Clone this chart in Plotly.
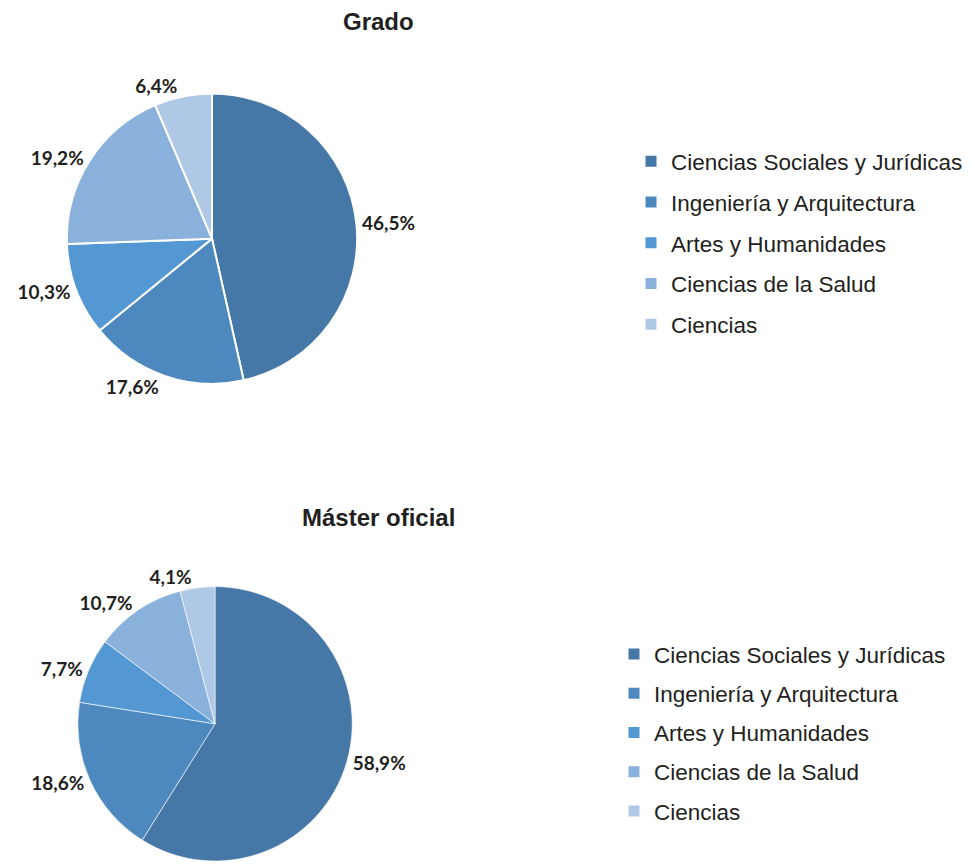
import plotly.graph_objects as go

ramas = [
    "Ciencias Sociales y Jurídicas",
    "Ingeniería y Arquitectura",
    "Artes y Humanidades",
    "Ciencias de la Salud",
    "Ciencias",
]
grado = [46.5, 17.6, 10.3, 19.2, 6.4]
master = [58.9, 18.6, 7.7, 10.7, 4.1]
colores = ["#4577A7", "#4D89BF", "#5398D2", "#8AB1DC", "#AFC8E6"]

# the page body adds an 8px margin, so the figure is drawn 8px smaller
W, H = 965, 858


def fx(px):
    return (px - 8) / W


def fy(py):
    return 1 - (py - 8) / H


label_font = dict(family="Lato, Open Sans, sans-serif", size=19, color="#231F20")
text_font = "Liberation Sans, Arial, sans-serif"

fig = go.Figure()
fig.add_trace(
    go.Pie(
        labels=ramas,
        values=grado,
        sort=False,
        direction="clockwise",
        rotation=0,
        marker=dict(colors=colores, line=dict(color="white", width=2)),
        texttemplate="<b>%{value:.1f}%</b>",
        textposition="outside",
        outsidetextfont=label_font,
        domain=dict(x=[fx(66), fx(358)], y=[fy(386), fy(94)]),
        showlegend=False,
        hoverinfo="label+value",
    )
)
fig.add_trace(
    go.Pie(
        labels=ramas,
        values=master,
        sort=False,
        direction="clockwise",
        rotation=0,
        marker=dict(colors=colores, line=dict(color="white", width=0.6)),
        texttemplate="<b>%{value:.1f}%</b>",
        textposition="outside",
        outsidetextfont=label_font,
        domain=dict(x=[fx(76), fx(354)], y=[0, fy(590)]),
        showlegend=False,
        hoverinfo="label+value",
    )
)

# pie legends share entries between traces, so each legend gets its own swatches
for leg in ["legend", "legend2"]:
    for rama, color in zip(ramas, colores):
        fig.add_trace(
            go.Scatter(
                x=[None],
                y=[None],
                mode="markers",
                marker=dict(symbol="square", size=11, color=color),
                name=rama,
                legendgroup=leg + rama,
                legend=leg,
                hoverinfo="skip",
            )
        )

legend_style = dict(
    font=dict(family=text_font, size=22.5, color="#231F20"),
    bgcolor="rgba(0,0,0,0)",
    xanchor="left",
    yanchor="top",
    traceorder="grouped",
)
title_font = dict(family=text_font, size=24, color="#231F20")
fig.update_layout(
    width=W,
    height=H,
    margin=dict(l=0, r=0, t=0, b=0),
    paper_bgcolor="white",
    plot_bgcolor="white",
    separators=",.",
    xaxis=dict(visible=False),
    yaxis=dict(visible=False),
    legend=dict(x=fx(631), y=fy(141), tracegroupgap=8.5, **legend_style),
    legend2=dict(x=fx(614), y=fy(636.5), tracegroupgap=7, **legend_style),
    annotations=[
        dict(
            text="<b>Grado</b>",
            x=fx(378),
            y=fy(22),
            xref="paper",
            yref="paper",
            yanchor="middle",
            showarrow=False,
            font=title_font,
        ),
        dict(
            text="<b>Máster oficial</b>",
            x=fx(378),
            y=fy(520),
            xref="paper",
            yref="paper",
            yanchor="middle",
            showarrow=False,
            font=title_font,
        ),
    ],
)

fig.write_html("out.html")
